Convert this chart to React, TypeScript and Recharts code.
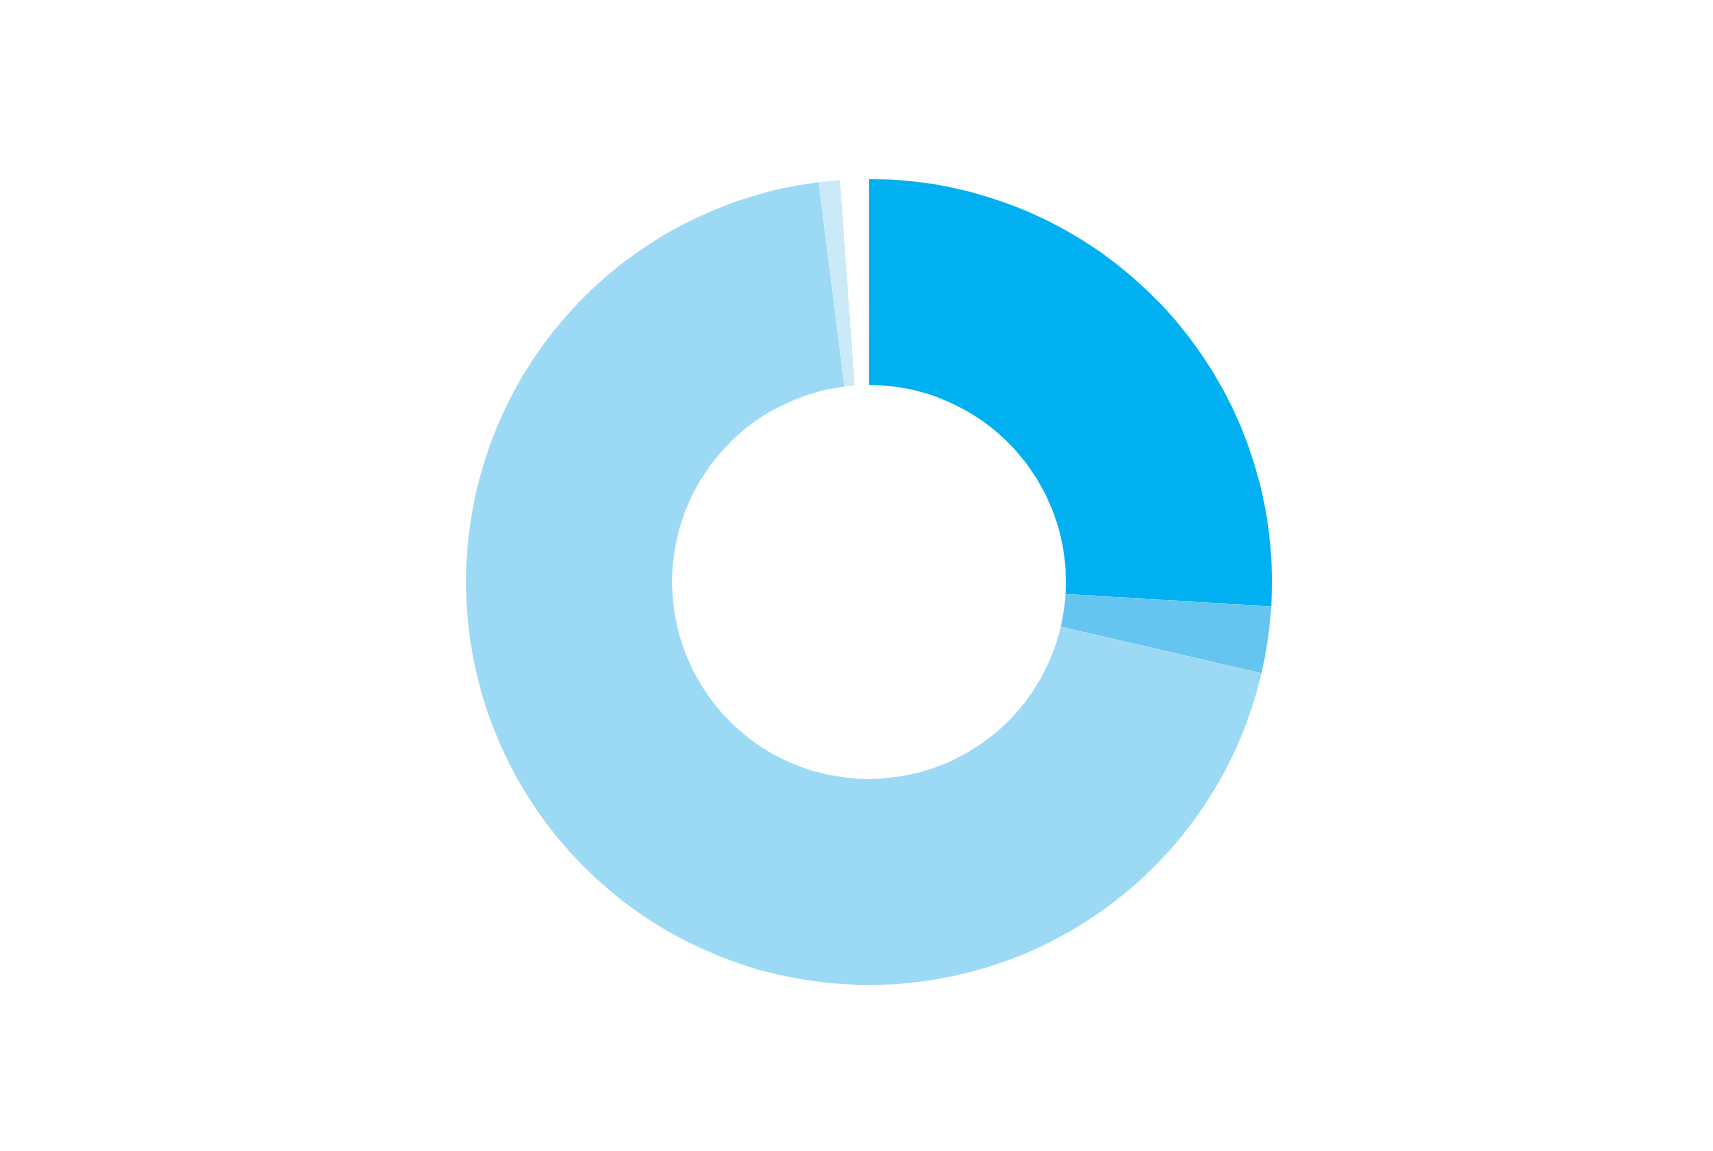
import { PieChart, Pie, Cell } from "recharts";

const labels = ["A", "B", "C", "D", "E"];
const values = [25.97, 2.67, 69.37, 0.85, 1.14];
const colors = ["#00b0f0", "#65c5f0", "#9bd9f4", "#cbeaf8", "#ffffff"];

const data = labels.map((name, i) => ({ name, value: values[i] }));

export default function App() {
  return (
    <div style={{ position: "absolute", left: 0, top: 0, width: 1713, height: 1151, background: "#fff" }}>
      <PieChart width={1713} height={1151}>
        <Pie
          data={data}
          dataKey="value"
          nameKey="name"
          cx={864}
          cy={577}
          innerRadius={197}
          outerRadius={403}
          startAngle={90}
          endAngle={-270}
          stroke="none"
          isAnimationActive={false}
        >
          {data.map((d, i) => (
            <Cell key={d.name} fill={colors[i]} />
          ))}
        </Pie>
      </PieChart>
    </div>
  );
}
